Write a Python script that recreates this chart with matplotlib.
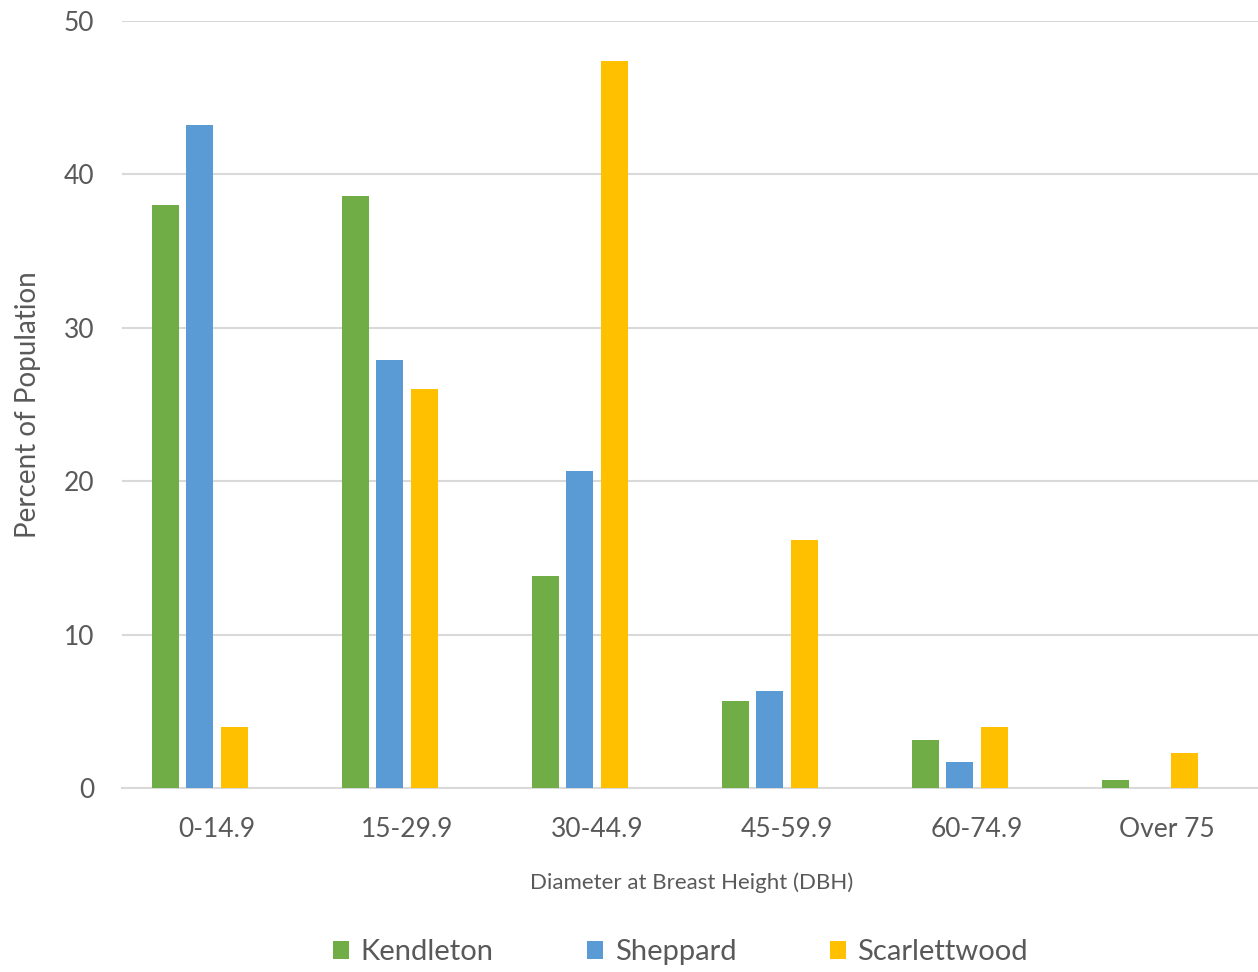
import matplotlib.pyplot as plt
import numpy as np

plt.rcParams['font.family'] = ['Lato', 'DejaVu Sans']

categories = ['0-14.9', '15-29.9', '30-44.9', '45-59.9', '60-74.9', 'Over 75']
kendleton = [38.0, 38.6, 13.8, 5.7, 3.1, 0.5]
sheppard = [43.2, 27.9, 20.7, 6.3, 1.7, 0.0]
scarlettwood = [4.0, 26.0, 47.4, 16.2, 4.0, 2.3]

series = [('Kendleton', kendleton, '#70AD47'),
          ('Sheppard', sheppard, '#5B9BD5'),
          ('Scarlettwood', scarlettwood, '#FFC000')]

text_color = '#595959'
grid_color = '#D9D9D9'

fig = plt.figure(figsize=(12.58, 9.72), dpi=100)
ax = fig.add_axes([0.097, 0.1893, 0.906, 0.789])

x = np.arange(len(categories))
pitch = 0.1816
width = 0.142
# groups are laid out with four slots, the last slot left empty
for i, (name, vals, color) in enumerate(series):
    ax.bar(x + (i - 1.5) * pitch, vals, width=width, color=color, label=name, zorder=3)

ax.set_xlim(-0.5, len(categories) - 0.5)
ax.set_ylim(0, 50)
ax.set_yticks(range(0, 51, 10))
ax.set_xticks(x, categories)

for side in ['top', 'right', 'left']:
    ax.spines[side].set_visible(False)
ax.spines['bottom'].set_color(grid_color)
ax.spines['bottom'].set_linewidth(1.5)
ax.grid(axis='y', color=grid_color, linewidth=1.5, zorder=0)
ax.tick_params(length=0, labelsize=19, colors=text_color)
ax.tick_params(axis='y', pad=20)
ax.tick_params(axis='x', pad=21)

ax.set_xlabel('Diameter at Breast Height (DBH)', fontsize=16, color=text_color, labelpad=22)
ax.set_ylabel('Percent of Population', fontsize=20, color=text_color, labelpad=16)

fig.legend(loc='lower center', bbox_to_anchor=(0.541, -0.02), ncol=3, frameon=False,
           fontsize=21, labelcolor=text_color, handlelength=0.55, handleheight=0.55,
           handletextpad=0.4, columnspacing=3.2)

plt.savefig('out.png', dpi=100)
